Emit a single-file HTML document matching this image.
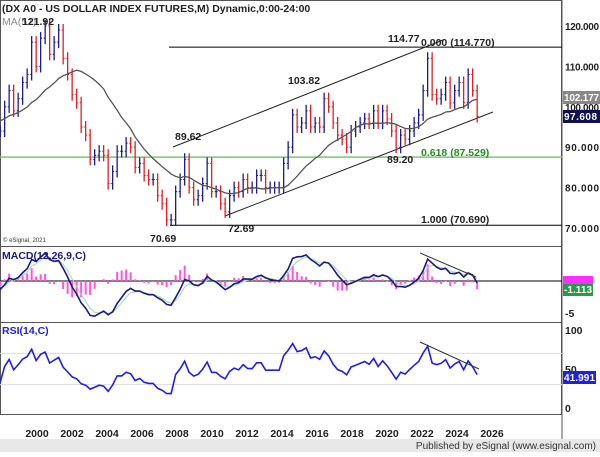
<!DOCTYPE html>
<html><head><meta charset="utf-8"><style>
body{margin:0;background:#fff;font-family:"Liberation Sans",sans-serif}
svg text{font-family:"Liberation Sans",sans-serif}
</style></head><body>
<svg id="c" width="600" height="452" viewBox="0 0 600 452" xmlns="http://www.w3.org/2000/svg">
<rect x="0" y="0" width="600" height="452" fill="#fff"/>
<rect x="0" y="439" width="600" height="13" fill="#e8e8e8"/>
<text x="596" y="449" font-size="10" text-anchor="end" fill="#333">Published by eSignal (www.esignal.com)</text>
<g id="grid"></g>
<g id="marks"></g>
<g id="ann"></g>
</svg>
<script>
const startYear = 1998;
const closes = [100,101,94,94, 100,104,99,102, 106,108,116,110, 117,120,113,116, 119,112,108,103,
 101,95,93,87, 88,89,88,81, 84,89,89,91, 90,85,86,83, 82,82,78,76, 72,72,79,82, 87,80,77,78,
 81,86,79,79, 76,74,78,80, 79,82,80,80, 83,83,80,80, 80,80,86,90, 98,95,96,99, 95,96,95,102,
 100,96,93,92, 90,94,95,96, 97,96,99,96, 99,97,94,90, 93,92,94,96, 98,104,112,103, 102,103,106,101,
 104,106,101,108, 104,97.6];
const maSeed = [88,89,90,91,92,93,94,95,96,97,98,98,99,99,100,100];
const priceTicks = [120,110,100,90,80,70];
const yearTicks = [2000,2002,2004,2006,2008,2010,2012,2014,2016,2018,2020,2022,2024,2026];
const rsiTicks = [100,50,0];

const NS="http://www.w3.org/2000/svg";
const xT = t => 168 + (t-2008.2)*18;
const xI = i => xT(startYear + i*0.25 + 0.125);
const yP = p => 26 + (120-p)*4.04;
const yM = m => 281 - m*6.4;
const yR = r => 408 - r*0.78;
const marks=document.getElementById('marks'), grid=document.getElementById('grid'), ann=document.getElementById('ann');
function mk(tag,attrs,parent){const e=document.createElementNS(NS,tag);for(const k in attrs)e.setAttribute(k,attrs[k]);parent.appendChild(e);return e;}
function txt(x,y,s,size,fill,anchor,parent,weight){const e=mk('text',{x:x,y:y,'font-size':size,fill:fill,'text-anchor':anchor||'start','font-weight':weight||'normal'},parent);e.textContent=s;return e;}

const borders=[[0,0,562,246],[0,246,562,322],[0,322,562,414]];
borders.forEach(b=>{const r=mk('rect',{x:b[0]+0.5,y:b[1]+0.5,width:b[2]-1,height:b[3]-b[1],fill:'none',stroke:'#555','stroke-width':1},grid);

});
mk('line',{x1:562,y1:0,x2:562,y2:439,stroke:'#555'},grid);
priceTicks.forEach(p=>{const t=txt(565,yP(p)+4,p.toFixed(3),10,'#222','start',grid,'bold');


t.setAttribute('textLength','34');});
yearTicks.forEach(y=>{const t=txt(37+(y-2000)*17.5,437,String(y),10.5,'#222','middle',grid,'bold');

});
rsiTicks.forEach(r=>{const t=txt(565,yR(r)+4,String(r),10.5,'#222','start',grid,'bold');

});
[70,30].forEach(r=>mk('line',{x1:0,y1:yR(r),x2:562,y2:yR(r),stroke:'#ddd'},grid));
txt(565,317,'-5',10.5,'#222','start',grid,'bold');

mk('line',{x1:169,y1:yP(114.77),x2:562,y2:yP(114.77),stroke:'#000'},grid);
mk('line',{x1:0,y1:yP(87.529),x2:562,y2:yP(87.529),stroke:'#7cc47c','stroke-width':1.5},grid);
mk('line',{x1:170,y1:yP(70.69),x2:562,y2:yP(70.69),stroke:'#000'},grid);
mk('line',{x1:173,y1:147,x2:443,y2:40,stroke:'#222'},grid);
mk('line',{x1:225,y1:216,x2:493,y2:112,stroke:'#222'},grid);

closes.forEach((c,i)=>{
  const o=i>0?closes[i-1]:c;
  const hi=Math.max(o,c)+1.5, lo=Math.min(o,c)-1.5;
  const x=xI(i);
  const col=c>=o?'#1c1c8c':'#e02020';
  const b=mk('line',{x1:x,y1:yP(hi),x2:x,y2:yP(lo),stroke:col,'stroke-width':1.3},marks);
  
  
  mk('line',{x1:x-1.5,y1:yP(o),x2:x,y2:yP(o),stroke:col},marks);
  mk('line',{x1:x,y1:yP(c),x2:x+1.5,y2:yP(c),stroke:col},marks);
});
const all=maSeed.concat(closes);
let ma=[];closes.forEach((c,i)=>{const j=i+maSeed.length;const s=all.slice(j-16,j+1);ma.push(s.reduce((a,b)=>a+b,0)/s.length);});
const maP=mk('polyline',{points:ma.map((v,i)=>xI(i)+','+yP(v)).join(' '),fill:'none',stroke:'#555','stroke-width':1.3},marks);



function ema(arr,n){const k=2/(n+1);let out=[],p=arr[0];arr.forEach(v=>{p=v*k+p*(1-k);out.push(p);});return out;}
const e1=ema(closes,5),e2=ema(closes,10);const macd=e1.map((v,i)=>v-e2[i]);const sig=ema(macd,3);
mk('line',{x1:0,y1:281,x2:562,y2:281,stroke:'#000'},marks);
macd.forEach((m,i)=>{const h=(m-sig[i])*2;const b=mk('rect',{x:xI(i)-1,y:Math.min(281,yM(h)),width:2,height:Math.abs(yM(h)-281),fill:'#ff55dd'},marks);

});
mk('polyline',{points:sig.map((v,i)=>xI(i)+','+yM(v)).join(' '),fill:'none',stroke:'#9fd8b8','stroke-width':1},marks);
const mp=mk('polyline',{points:macd.map((v,i)=>xI(i)+','+yM(v)).join(' '),fill:'none',stroke:'#1a1a80','stroke-width':1.6},marks);


mk('line',{x1:420,y1:253,x2:476,y2:277,stroke:'#333'},marks);

let rsi=[],ag=0.8,al=0.8;closes.forEach((c,i)=>{if(i===0){rsi.push(55);return;}const d=c-closes[i-1];const g=Math.max(d,0),l=Math.max(-d,0);ag=(ag*7+g)/8;al=(al*7+l)/8;rsi.push(al===0?100:100-100/(1+ag/al));});
const rp=mk('polyline',{points:rsi.map((v,i)=>xI(i)+','+yR(v)).join(' '),fill:'none',stroke:'#2020e0','stroke-width':1.6},marks);


mk('line',{x1:420,y1:342,x2:479,y2:369,stroke:'#333'},marks);

txt(2,12,'(DX A0 - US DOLLAR INDEX FUTURES,M) Dynamic,0:00-24:00',10.5,'#222','start',ann,'bold');
txt(2,25,'MA(51)',10.5,'#888','start',ann);
txt(22,25,'121.92',10.5,'#222','start',ann,'bold');
[['89.62',175,140],['72.69',228,232],['70.69',150,242],['103.82',288,84],['114.77',388,42],['0.000 (114.770)',421,46],['89.20',387,163],['1.000 (70.690)',421,223]].forEach(a=>txt(a[1],a[2],a[0],10.5,'#222','start',ann,'bold'));
txt(421,156,'0.618 (87.529)',10.5,'#2a8a2a','start',ann,'bold');
txt(3,242,'© eSignal, 2021',6,'#333','start',ann);
txt(2,259,'MACD(12,26,9,C)',10.5,'#1a1a80','start',ann,'bold');
txt(2,334,'RSI(14,C)',10.5,'#2020e0','start',ann,'bold');
mk('rect',{x:563,y:91,width:37,height:13,fill:'#888'},ann);txt(564,101,'102.177',10,'#fff','start',ann,'bold').setAttribute('textLength','35');
mk('rect',{x:563,y:110,width:37,height:13,fill:'#101050'},ann);txt(564,120,'97.608',10,'#fff','start',ann,'bold').setAttribute('textLength','33');
mk('rect',{x:563,y:276,width:30,height:8,fill:'#ff30ff'},ann);
mk('rect',{x:563,y:284,width:30,height:12,fill:'#2a9a4a'},ann);txt(564,293,'-1.113',10,'#fff','start',ann,'bold').setAttribute('textLength','28');
mk('rect',{x:563,y:371,width:33,height:13,fill:'#2020e0'},ann);txt(564,381,'41.991',10,'#fff','start',ann,'bold').setAttribute('textLength','31');
</script>
</body></html>
